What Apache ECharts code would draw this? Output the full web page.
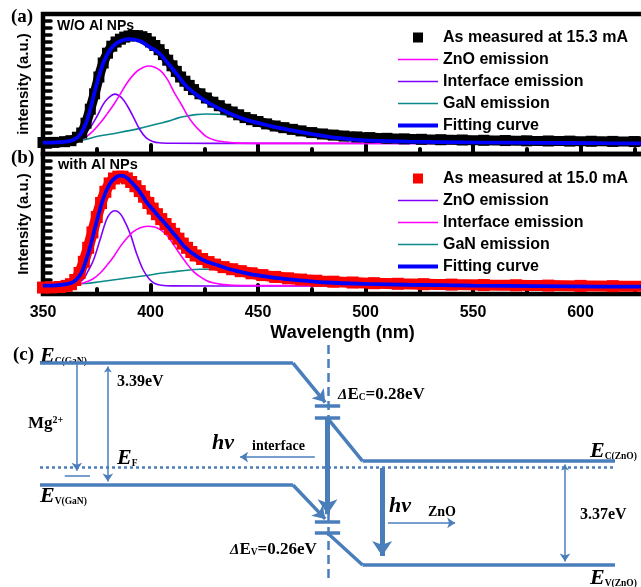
<!DOCTYPE html>
<html><head><meta charset="utf-8">
<script src="https://cdn.jsdelivr.net/npm/echarts@6/dist/echarts.min.js"></script>
<style>html,body{margin:0;padding:0;background:#fff}#c{width:641px;height:587px}</style>
</head><body><div id="c"></div>
<script>
// ---------- Panel (a): without Al NPs  [wavelength nm, intensity a.u.] ----------
const measA = [[350,0.082],[355,0.083],[360,0.088],[363,0.095],[366,0.12],[368,0.15],[370,0.22],[372,0.32],[374,0.43],[376,0.55],[378,0.65],[380,0.72],[382,0.77],[384,0.80],[386,0.82],[388,0.835],[390,0.843],[392,0.846],[394,0.845],[396,0.838],[398,0.825],[400,0.80],[402,0.775],[404,0.745],[406,0.71],[408,0.67],[410,0.63],[412,0.59],[414,0.55],[416,0.52],[418,0.49],[420,0.46],[423,0.43],[426,0.40],[429,0.37],[432,0.345],[435,0.32],[438,0.30],[441,0.28],[444,0.26],[447,0.245],[450,0.232],[454,0.215],[458,0.2],[462,0.188],[466,0.176],[470,0.165],[475,0.153],[480,0.143],[485,0.135],[490,0.128],[496,0.122],[502,0.117],[510,0.112],[518,0.108],[526,0.105],[535,0.102],[545,0.1],[555,0.098],[565,0.096],[575,0.094],[585,0.093],[595,0.092],[605,0.091],[615,0.09],[625,0.089],[632,0.088]];
const znoA = [[350,0.081],[360,0.085],[365,0.095],[369,0.112],[373,0.16],[376.5,0.219],[380,0.29],[383,0.355],[386,0.43],[389,0.505],[392,0.565],[395,0.605],[399,0.629],[402,0.62],[405,0.59],[408,0.53],[411,0.44],[414.5,0.35],[417,0.28],[420,0.215],[423,0.165],[426,0.124],[430,0.098],[434,0.088],[441,0.078],[460,0.076],[632,0.076]];
const interfaceA = [[350,0.081],[358,0.082],[362,0.085],[366,0.10],[369,0.135],[372,0.19],[375,0.266],[378,0.355],[380,0.395],[382,0.42],[383.5,0.428],[385,0.42],[387,0.395],[389,0.35],[392,0.266],[395,0.175],[398,0.115],[401,0.09],[404,0.08],[410,0.077],[450,0.076],[632,0.076]];
const ganA = [[350,0.081],[360,0.087],[368,0.098],[376,0.128],[385,0.152],[395,0.183],[404,0.218],[408,0.233],[413,0.258],[417,0.271],[421,0.281],[426,0.286],[432,0.284],[438,0.268],[445,0.242],[450,0.222],[457,0.195],[465,0.17],[473,0.148],[480,0.13],[488,0.113],[495,0.103],[502,0.095],[520,0.088],[550,0.083],[580,0.08],[610,0.077],[632,0.075]];
const fitA = [[350,0.081],[356,0.083],[360,0.087],[364,0.10],[367,0.133],[370,0.22],[372,0.32],[375,0.50],[378,0.648],[381,0.74],[384,0.79],[387,0.812],[390,0.821],[393,0.816],[396,0.80],[400,0.76],[404,0.72],[408,0.65],[412,0.575],[416,0.495],[420,0.44],[426,0.374],[430,0.34],[435,0.302],[440,0.27],[445,0.242],[450,0.222],[457,0.195],[465,0.17],[473,0.148],[480,0.13],[488,0.113],[495,0.103],[502,0.095],[520,0.088],[550,0.083],[580,0.08],[610,0.077],[632,0.075]];

// ---------- Panel (b): with Al NPs ----------
const measB = [[350,0.046],[354,0.047],[358,0.05],[361,0.058],[363,0.07],[365,0.1],[367,0.15],[369,0.23],[371,0.33],[373,0.44],[375,0.55],[377,0.65],[379,0.73],[381,0.79],[383,0.825],[385,0.838],[387,0.838],[389,0.826],[391,0.8],[393,0.77],[395,0.735],[397,0.695],[399,0.65],[401,0.61],[403,0.57],[405,0.535],[407,0.5],[409,0.465],[411,0.43],[413,0.395],[415,0.36],[417,0.33],[419,0.3],[421,0.275],[424,0.25],[427,0.228],[430,0.21],[434,0.192],[438,0.177],[442,0.163],[447,0.148],[452,0.135],[458,0.122],[464,0.112],[470,0.103],[477,0.095],[485,0.088],[494,0.082],[504,0.077],[515,0.073],[527,0.07],[540,0.067],[555,0.064],[570,0.062],[585,0.06],[600,0.058],[615,0.056],[632,0.055]];
const znoB = [[350,0.06],[360,0.062],[364,0.07],[367,0.085],[369,0.11],[371,0.165],[373.5,0.243],[376.5,0.386],[379.5,0.53],[381.5,0.58],[383.5,0.595],[385.5,0.58],[387.5,0.535],[390.5,0.433],[393.5,0.29],[396.5,0.175],[399.5,0.105],[402,0.075],[405,0.063],[410,0.058],[450,0.057],[632,0.057]];
const interfaceB = [[350,0.06],[360,0.062],[365,0.068],[369,0.08],[373,0.105],[376.5,0.148],[380,0.21],[383,0.27],[386,0.34],[389,0.398],[392,0.445],[395,0.472],[398.5,0.484],[402,0.478],[404.5,0.46],[407,0.43],[410,0.37],[413,0.3],[417,0.215],[420,0.16],[423,0.124],[426,0.097],[429,0.08],[433,0.069],[438,0.063],[450,0.06],[632,0.058]];
const ganB = [[350,0.06],[360,0.065],[370,0.075],[376.5,0.088],[385,0.105],[392,0.12],[398,0.132],[404.5,0.148],[411,0.16],[417,0.17],[423,0.177],[429,0.178],[435,0.174],[440,0.163],[447,0.14],[454,0.124],[462,0.108],[470,0.097],[482,0.082],[500,0.072],[520,0.066],[550,0.06],[580,0.056],[610,0.053],[632,0.052]];
const fitB = [[350,0.06],[356,0.062],[361,0.07],[364,0.085],[366,0.11],[368,0.155],[370,0.24],[372,0.34],[375,0.52],[378,0.68],[381,0.785],[384,0.835],[386.5,0.845],[389,0.83],[392,0.785],[395,0.73],[398,0.66],[401,0.605],[404,0.55],[407,0.5],[410,0.445],[413,0.39],[416,0.335],[420,0.285],[423,0.255],[426,0.232],[431,0.207],[435,0.186],[440,0.165],[447,0.14],[454,0.124],[462,0.108],[470,0.097],[482,0.082],[500,0.072],[520,0.066],[550,0.06],[580,0.056],[610,0.053],[632,0.052]];

// ---------- Panel (c): band diagram, schematic units (x: 0-100 across, y: 0-100 energy) ----------
const ecGaN = [[0,92.3],[44,92.3],[49.6,75.6]];
const ecZnO = [[50,68.9],[56.1,50.6],[100,50.6]];
const evGaN = [[0,40.4],[44,40.4],[49.6,26]];
const evZnO = [[50,20],[56.1,6.4],[100,6.4]];
const offsetBars = [[[47.8,74],[52.2,74]],[[47.8,68.9],[52.2,68.9]],[[47.8,24.7],[52.2,24.7]],[[47.8,20],[52.2,20]]];
const interfaceLine = [[50.1,100],[50.1,0]];
const fermiLevel = [[0,48.1],[100,48.1]];
const mgArrow = [[6.4,92.3],[6.4,46.5]];
const acceptorLevel = [[4.3,44.3],[8.7,44.3]];
const gapGaN = [[11.8,90.8],[11.8,41.9]];
const gapZnO = [[91.3,49.1],[91.3,7.9]];
const hvInterfaceArrow = [[50,68.9],[50,28]];
const hvZnOArrow = [[59.5,47.7],[59.5,10.2]];
const interfaceEmit = [[47.8,52.3],[34.8,52.3]];
const znoEmit = [[60.5,24.3],[72.2,24.3]];

const C_MAG = '#ff00ff', C_VIO = '#8000ff', C_TEAL = '#0b8a8a', C_BLUE = '#0000ff';
const C_BAND = '#4a7ebb';
const SANS = '"Liberation Sans", Arial, sans-serif';
const SERIF = '"Liberation Serif", "Times New Roman", serif';

function lineSeries(name, data, color, width, gi, z) {
  return { type: 'line', name, data, xAxisIndex: gi, yAxisIndex: gi, smooth: 0.35, symbol: 'none',
    lineStyle: { color, width }, itemStyle: { color }, z, silent: true };
}
function measSeries(name, data, color, size, gi) {
  return { type: 'line', name, data, xAxisIndex: gi, yAxisIndex: gi, smooth: 0.3, symbol: 'rect',
    symbolSize: size, showSymbol: true, showAllSymbol: true,
    lineStyle: { color, width: size - 1 }, itemStyle: { color }, z: 4, silent: true };
}
function segs(poly, arrowLast) {
  const out = [];
  for (let i = 0; i < poly.length - 1; i++) {
    const it = { coords: [poly[i], poly[i + 1]] };
    if (arrowLast && i === poly.length - 2) it.symbol = ['none', 'arrow'];
    out.push(it);
  }
  return out;
}
function linesSeries(data, color, width, type, symSize, z) {
  return { type: 'lines', coordinateSystem: 'cartesian2d', xAxisIndex: 2, yAxisIndex: 2, silent: true,
    symbol: ['none', 'none'], symbolSize: symSize || 10, z: z || 2,
    lineStyle: { color, width, type: type || 'solid', opacity: 1, cap: 'butt' }, data };
}

const thinIcon = 'path://M0 0H40V1.6H0Z', thickIcon = 'path://M0 0H40V4H0Z', sqIcon = 'path://M0 0H10V10H0Z';
const legendText = { fontFamily: SANS, fontWeight: 'bold', fontSize: 16, lineHeight: 15, color: '#000' };

const tickStyle = { color: '#000', width: 4, cap: 'round' };
function xAx(gi, showLabel) {
  return { type: 'value', gridIndex: gi, min: 350, max: 650, interval: 50,
    axisLine: { show: false }, splitLine: { show: false },
    axisTick: { show: true, inside: true, length: 9, lineStyle: tickStyle },
    minorTick: { show: true, splitNumber: 2, length: 5, lineStyle: tickStyle },
    axisLabel: { show: showLabel, showMaxLabel: false, margin: 11, color: '#000', fontFamily: SANS, fontWeight: 'bold', fontSize: 16 },
    name: showLabel ? 'Wavelength (nm)' : '', nameLocation: 'middle', nameGap: 30,
    nameTextStyle: { color: '#000', fontFamily: SANS, fontWeight: 'bold', fontSize: 18, padding: [0, 46, 0, 0] } };
}
function yAx(gi, name) {
  return { type: 'value', gridIndex: gi, min: 0, max: 1, interval: 0.05,
    axisLine: { show: false }, splitLine: { show: false }, axisLabel: { show: false },
    axisTick: { show: true, inside: true, length: 8, lineStyle: { color: '#000', width: 3.5, cap: 'round' } },
    name, nameLocation: 'middle', nameGap: 12,
    nameTextStyle: { color: '#000', fontFamily: SANS, fontWeight: 'bold', fontSize: 15 } };
}

const eRich = {
  e: { fontFamily: SERIF, fontStyle: 'italic', fontWeight: 'bold', fontSize: 22, lineHeight: 22, verticalAlign: 'bottom', fill: '#000' },
  s: { fontFamily: SERIF, fontWeight: 'bold', fontSize: 9.5, lineHeight: 10, verticalAlign: 'bottom', fill: '#000' },
  d: { fontFamily: SERIF, fontStyle: 'italic', fontWeight: 'bold', fontSize: 15, lineHeight: 16, verticalAlign: 'bottom', fill: '#000' },
  b: { fontFamily: SERIF, fontWeight: 'bold', fontSize: 17, lineHeight: 17, verticalAlign: 'bottom', fill: '#000' },
  p: { fontFamily: SERIF, fontWeight: 'bold', fontSize: 10, lineHeight: 10, verticalAlign: 'top', fill: '#000' }
};
function txt(x, y, text, font, va) {
  return { type: 'text', x, y, silent: true, style: { text, font, fill: '#000', verticalAlign: va || 'middle', align: 'left' } };
}
function rtxt(x, y, text, va) {
  return { type: 'text', x, y, silent: true, style: { text, rich: eRich, fill: '#000', verticalAlign: va || 'bottom', align: 'left' } };
}

const option = {
  animation: false,
  backgroundColor: '#fff',
  grid: [
    { left: 43, top: 14, width: 645, height: 140, show: true, borderColor: '#000', borderWidth: 4.5, outerBoundsMode: 'none', containLabel: false },
    { left: 43, top: 154, width: 645, height: 140, show: true, borderColor: '#000', borderWidth: 4.5, outerBoundsMode: 'none', containLabel: false },
    { left: 40, top: 345, width: 575, height: 235, outerBoundsMode: 'none' }
  ],
  xAxis: [xAx(0, false), xAx(1, true), { type: 'value', gridIndex: 2, min: 0, max: 100, show: false }],
  yAxis: [yAx(0, 'intensity (a.u.)'), yAx(1, 'Intensity (a.u.)'), { type: 'value', gridIndex: 2, min: 0, max: 100, show: false }],
  legend: [
    { orient: 'vertical', left: 393, top: 24.5, itemWidth: 40, itemHeight: 10, itemGap: 6, selectedMode: false, textStyle: legendText,
      data: [{ name: 'As measured at 15.3 mA', icon: sqIcon }, { name: 'ZnO emission', icon: thinIcon }, { name: 'Interface emission', icon: thinIcon },
             { name: 'GaN emission', icon: thinIcon }, { name: 'Fitting curve', icon: thickIcon }] },
    { orient: 'vertical', left: 393, top: 165.5, itemWidth: 40, itemHeight: 10, itemGap: 6, selectedMode: false, textStyle: legendText,
      data: [{ name: 'As measured at 15.0 mA', icon: sqIcon }, { name: 'ZnO emission ', icon: thinIcon }, { name: 'Interface emission ', icon: thinIcon },
             { name: 'GaN emission ', icon: thinIcon }, { name: 'Fitting curve ', icon: thickIcon }] }
  ],
  series: [
    lineSeries('GaN emission', ganA, C_TEAL, 1.6, 0, 2),
    lineSeries('Interface emission', interfaceA, C_VIO, 1.6, 0, 2),
    lineSeries('ZnO emission', znoA, C_MAG, 1.6, 0, 2),
    measSeries('As measured at 15.3 mA', measA, '#000', 11, 0),
    lineSeries('Fitting curve', fitA, C_BLUE, 3.8, 0, 5),

    lineSeries('GaN emission ', ganB, C_TEAL, 1.6, 1, 2),
    lineSeries('ZnO emission ', znoB, C_VIO, 1.6, 1, 2),
    lineSeries('Interface emission ', interfaceB, C_MAG, 1.6, 1, 2),
    measSeries('As measured at 15.0 mA', measB, '#ff0000', 12, 1),
    lineSeries('Fitting curve ', fitB, C_BLUE, 3.8, 1, 5),

    linesSeries([{ coords: fermiLevel }], C_BAND, 2.5, [3, 3], 10, 1),
    linesSeries([{ coords: interfaceLine }], C_BAND, 2.5, [9, 5], 10, 1),
    linesSeries([].concat(segs(ecGaN, true), segs(ecZnO, false), segs(evGaN, true), segs(evZnO, false),
      offsetBars.map(b => ({ coords: b }))), C_BAND, 3.5, 'solid', [9, 12], 3),
    linesSeries([{ coords: acceptorLevel }], C_BAND, 1.5, 'solid', 8, 3),
    linesSeries([
      { coords: mgArrow, symbol: ['none', 'arrow'] },
      { coords: gapGaN, symbol: ['arrow', 'arrow'] },
      { coords: gapZnO, symbol: ['arrow', 'arrow'] },
      { coords: interfaceEmit, symbol: ['none', 'arrow'] },
      { coords: znoEmit, symbol: ['none', 'arrow'] }
    ], C_BAND, 1.5, 'solid', [6, 8], 3),
    linesSeries([
      { coords: hvInterfaceArrow, symbol: ['none', 'arrow'] },
      { coords: hvZnOArrow, symbol: ['none', 'arrow'] }
    ], C_BAND, 5, 'solid', [12, 15], 4)
  ],
  graphic: [
    txt(11, 17, '(a)', 'bold 19px ' + SERIF),
    txt(11, 158, '(b)', 'bold 19px ' + SERIF),
    txt(57, 26, 'W/O Al NPs', 'bold 14px ' + SANS),
    txt(58, 165, 'with Al NPs', 'bold 14.5px ' + SANS),
    txt(13, 355, '(c)', 'bold 19px ' + SERIF),
    rtxt(40, 367, '{e|E}{s|C(GaN)}'),
    rtxt(40, 507, '{e|E}{s|V(GaN)}'),
    rtxt(117, 469, '{e|E}{s|F}'),
    rtxt(590, 462, '{e|E}{s|C(ZnO)}'),
    rtxt(590, 589, '{e|E}{s|V(ZnO)}'),
    txt(117, 382, '3.39eV', 'bold 16px ' + SERIF),
    txt(580, 515, '3.37eV', 'bold 16px ' + SERIF),
    rtxt(28, 424, '{b|Mg}{p|2+}', 'middle'),
    txt(212, 443, 'hv', 'italic bold 22px ' + SERIF),
    txt(252, 446, 'interface', 'bold 14px ' + SERIF),
    txt(389, 506, 'hv', 'italic bold 22px ' + SERIF),
    txt(428, 512, 'ZnO', 'bold 14px ' + SERIF),
    rtxt(338, 403, '{d|Δ}{b|E}{s|C}{b|=0.28eV}'),
    rtxt(230, 558, '{d|Δ}{b|E}{s|V}{b|=0.26eV}')
  ]
};
const chart = echarts.init(document.getElementById('c'), null, { renderer: 'canvas' });
chart.setOption(option);
</script></body></html>
